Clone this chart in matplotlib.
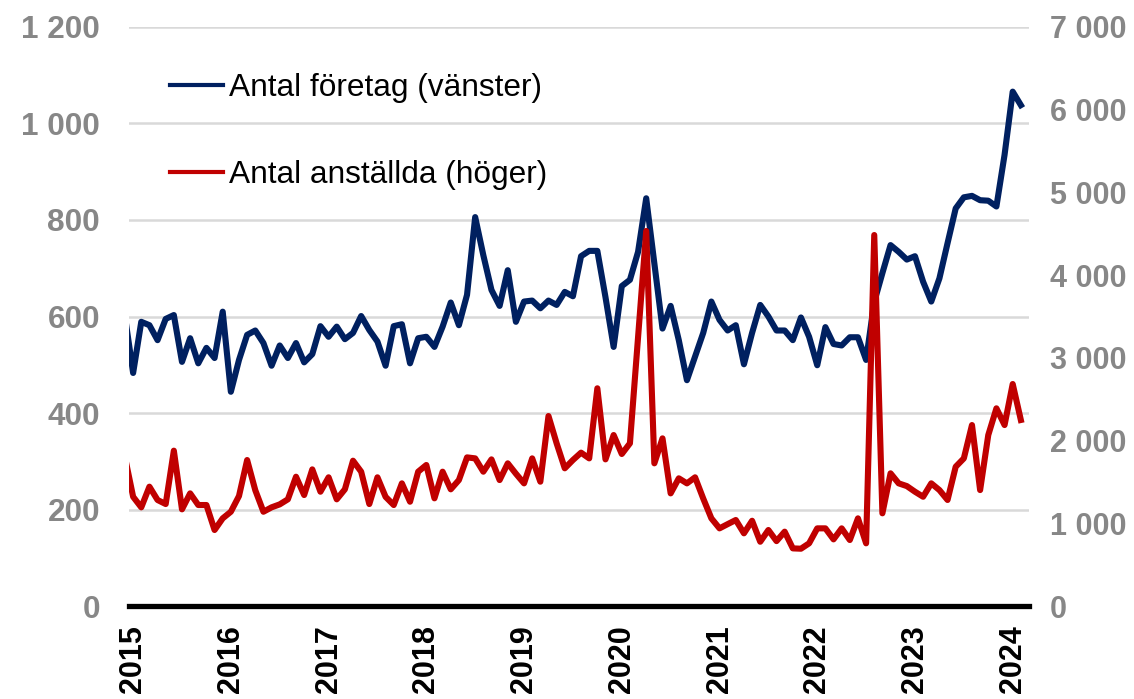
import matplotlib
matplotlib.use("Agg")
import matplotlib.pyplot as plt
from matplotlib.lines import Line2D

plt.rcParams['font.family'] = ['Liberation Sans', 'DejaVu Sans']

# monthly data, Dec 2014 .. Feb 2024 (first point only shows as the clipped line start)
foretag = [600,
           483, 589, 582, 551, 595, 603, 506, 555, 503, 535, 514, 610,
           444, 510, 562, 571, 545, 498, 540, 514, 545, 505, 522, 580,
           558, 579, 553, 566, 601, 572, 548, 498, 580, 584, 503, 555,
           558, 537, 579, 629, 582, 645, 806, 727, 655, 622, 696, 589,
           631, 633, 617, 633, 624, 651, 642, 725, 736, 736, 640, 537,
           663, 676, 734, 845, 710, 575, 622, 551, 468, 517, 566, 631,
           593, 571, 582, 501, 566, 624, 600, 571, 571, 551, 598, 558,
           499, 578, 543, 540, 557, 557, 510, 630, 690, 748, 734, 718,
           725, 672, 631, 679, 752, 824, 847, 850, 841, 840, 828, 935,
           1066, 1038]

anstallda = [1800,
             1321, 1193, 1443, 1282, 1233, 1878, 1169, 1362, 1221, 1221, 919, 1060,
             1140, 1330, 1765, 1400, 1140, 1193, 1229, 1290, 1563, 1342, 1652, 1382,
             1556, 1290, 1411, 1757, 1624, 1233, 1556, 1320, 1221, 1483, 1261, 1624,
             1705, 1302, 1624, 1411, 1523, 1797, 1785, 1624, 1773, 1523, 1725, 1600,
             1483, 1785, 1503, 2297, 1967, 1665, 1765, 1854, 1785, 2632, 1773, 2067,
             1838, 1967, 3250, 4534, 1725, 2027, 1362, 1544, 1483, 1556, 1300, 1060,
             939, 990, 1040, 879, 1031, 777, 919, 785, 899, 697, 693, 758,
             939, 939, 806, 939, 798, 1060, 758, 4485, 1121, 1604, 1483, 1450,
             1382, 1321, 1483, 1402, 1282, 1684, 1785, 2188, 1402, 2067, 2390, 2188,
             2684, 2249]

years = list(range(2015, 2025))
left_ticks = [0, 200, 400, 600, 800, 1000, 1200]
right_ticks = [0, 1000, 2000, 3000, 4000, 5000, 6000, 7000]

blue = "#002060"
red = "#C00000"
gray = "#878787"

months = list(range(-1, len(foretag) - 1))  # 0 = Jan 2015


def fmt(v):
    return f"{v:,}".replace(",", " ")


fig = plt.figure(figsize=(11.34, 6.99), dpi=100)
ax1 = fig.add_axes([0.1138, 0.133, 0.7936, 0.8284])
ax2 = ax1.twinx()

ax1.plot(months, foretag, color=blue, lw=4.4, solid_joinstyle="round")
ax2.plot(months, anstallda, color=red, lw=4.4, solid_joinstyle="round")

ax1.set_xlim(-0.5, 110)
ax1.set_ylim(0, 1200)
ax2.set_ylim(0, 7000)

ax1.set_yticks(left_ticks)
ax1.set_yticklabels([fmt(v) for v in left_ticks])
ax2.set_yticks(right_ticks)
ax2.set_yticklabels([fmt(v) for v in right_ticks])
ax1.tick_params(axis="y", length=0, pad=21, labelsize=22.7, labelcolor=gray)
ax2.tick_params(axis="y", length=0, pad=15, labelsize=22, labelcolor=gray)
for lab in ax1.get_yticklabels() + ax2.get_yticklabels():
    lab.set_fontweight("bold")

ax1.set_xticks([12 * i for i in range(len(years))])
ax1.set_xticklabels([str(y) for y in years], rotation=90, fontsize=22,
                    fontweight="bold")
ax1.tick_params(axis="x", length=0, pad=14)

ax1.yaxis.grid(True, color="#d9d9d9", lw=1.8)
ax1.set_axisbelow(True)

for ax in (ax1, ax2):
    for s in ["top", "left", "right", "bottom"]:
        ax.spines[s].set_visible(False)
ax2.axhline(0, color="black", lw=3.8, clip_on=False)

handles = [Line2D([], [], color=blue, lw=3),
           Line2D([], [], color=red, lw=3)]
leg = ax2.legend(handles, ["Antal företag (vänster)", "Antal anställda (höger)"],
                 loc="upper left", bbox_to_anchor=(0.031, 0.942), frameon=False,
                 fontsize=22.8, handlelength=1.7, handletextpad=0.19,
                 labelspacing=1.79, borderaxespad=0)

fig.savefig("out.png", dpi=100)
